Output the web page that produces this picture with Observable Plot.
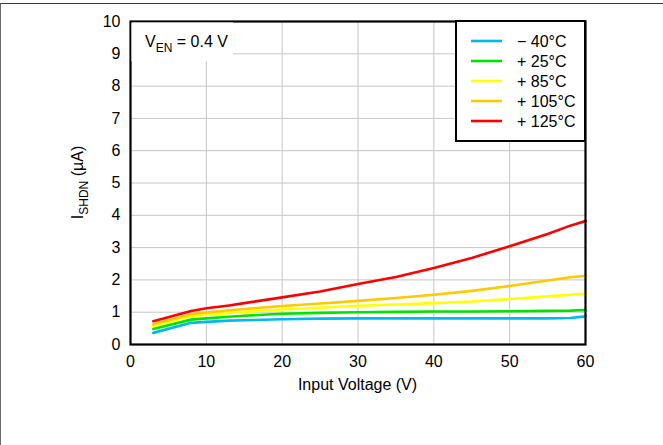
<!DOCTYPE html>
<html>
<head>
<meta charset="utf-8">
<script src="https://cdn.jsdelivr.net/npm/d3@7"></script>
<script src="https://cdn.jsdelivr.net/npm/@observablehq/plot@0.6"></script>
<style>
  html, body { margin: 0; padding: 0; background: #fff; }
  #wrap { position: relative; width: 663px; height: 445px; overflow: hidden; }
  #edge { position: absolute; left: 0; top: 3px; width: 700px; height: 500px;
          border-top: 1px solid #3a3a3a; border-left: 1px solid #6a6a6a; pointer-events: none; }
  svg { font-family: "Liberation Sans", Arial, sans-serif; }
</style>
</head>
<body>
<div id="wrap"><div id="edge"></div></div>
<script>
// ---- data ----
const temps = ["− 40°C", "+ 25°C", "+ 85°C", "+ 105°C", "+ 125°C"];
const colors = ["#00b8f2", "#00e400", "#ffff00", "#ffc800", "#ff0000"];
const vin = [3, 8, 10, 13, 15, 20, 25, 30, 35, 40, 45, 50, 55, 58, 60];
const iM40  = [0.36, 0.67, 0.70, 0.74, 0.75, 0.78, 0.80, 0.81, 0.81, 0.81, 0.81, 0.81, 0.81, 0.82, 0.87];
const iP25  = [0.48, 0.77, 0.81, 0.86, 0.89, 0.95, 0.98, 1.00, 1.01, 1.02, 1.02, 1.03, 1.04, 1.05, 1.07];
const iP85  = [0.57, 0.88, 0.92, 0.98, 1.01, 1.09, 1.14, 1.20, 1.24, 1.28, 1.33, 1.41, 1.49, 1.54, 1.57];
const iP105 = [0.63, 0.94, 0.99, 1.06, 1.10, 1.19, 1.27, 1.35, 1.44, 1.54, 1.66, 1.81, 1.98, 2.08, 2.13];
const iP125 = [0.72, 1.04, 1.12, 1.21, 1.28, 1.46, 1.64, 1.87, 2.09, 2.37, 2.68, 3.04, 3.42, 3.68, 3.82];
const xTicks = [0, 10, 20, 30, 40, 50, 60];
const yTicks = [0, 1, 2, 3, 4, 5, 6, 7, 8, 9, 10];

const seriesVals = [iM40, iP25, iP85, iP105, iP125];
const rows = [];
seriesVals.forEach((vals, si) => vals.forEach((v, i) => rows.push({temp: temps[si], x: vin[i], y: v})));

const W = 663, H = 445;
const mL = 130, mR = 78, mT = 21, mB = 101;

const chart = Plot.plot({
  width: W, height: H,
  marginLeft: mL, marginRight: mR, marginTop: mT, marginBottom: mB,
  style: {fontFamily: "'Liberation Sans', Arial, sans-serif", background: "transparent", color: "#000"},
  x: {domain: [0, 60]},
  y: {domain: [0, 10]},
  color: {domain: temps, range: colors},
  marks: [
    Plot.gridX(xTicks, {stroke: "#c6c6c6", strokeOpacity: 1, strokeWidth: 1}),
    Plot.gridY(yTicks, {stroke: "#c6c6c6", strokeOpacity: 1, strokeWidth: 1}),
    Plot.line(rows, {x: "x", y: "y", z: "temp", stroke: "temp", strokeWidth: 2.6, curve: "linear"}),
    Plot.frame({stroke: "#000", strokeWidth: 2.2}),
    Plot.axisX(xTicks, {tickSize: 0, tickPadding: 11, fontSize: 16, label: null}),
    Plot.axisY(yTicks, {tickSize: 0, tickPadding: 10, fontSize: 16, label: null})
  ]
});

document.getElementById("wrap").appendChild(chart);

const svg = d3.select(chart);
const sx = chart.scale("x"), sy = chart.scale("y");
const x0 = sx.apply(0), x60 = sx.apply(60), y0 = sy.apply(0), y10 = sy.apply(10);

// annotation box (covers grid)
const ann = svg.append("g").attr("text-anchor", "start");
ann.append("rect").attr("x", x0 + 1.5).attr("y", y10 + 1.5)
  .attr("width", sx.apply(13.6) - x0 - 1.5).attr("height", sy.apply(8.75) - y10 - 1.5).attr("fill", "#fff");
const annT = ann.append("text").attr("x", x0 + 15).attr("y", y10 + 26)
  .attr("font-size", 16).attr("fill", "#000").attr("text-anchor", "start");
annT.append("tspan").text("V");
annT.append("tspan").attr("font-size", 12).attr("dy", 5).text("EN");
annT.append("tspan").attr("dy", -5).text(" = 0.4 V");

// legend
const lg = svg.append("g").attr("text-anchor", "start");
const lx = 456, ly = y10;
lg.append("rect").attr("x", lx).attr("y", ly).attr("width", x60 - lx).attr("height", 120)
  .attr("fill", "#fff").attr("stroke", "#000").attr("stroke-width", 2);
temps.forEach((t, i) => {
  const yy = ly + 20 + i * 20;
  lg.append("line").attr("x1", lx + 15).attr("x2", lx + 46).attr("y1", yy).attr("y2", yy)
    .attr("stroke", colors[i]).attr("stroke-width", 2.6);
  lg.append("text").attr("x", lx + 61).attr("y", yy + 5.5).attr("font-size", 16)
    .attr("fill", "#000").attr("text-anchor", "start").text(t);
});

// axis labels
svg.append("text").attr("x", (x0 + x60) / 2).attr("y", 390).attr("text-anchor", "middle")
  .attr("font-size", 16).attr("fill", "#000").text("Input Voltage (V)");
const yl = svg.append("text").attr("transform", `translate(83,${(y0 + y10) / 2}) rotate(-90)`)
  .attr("text-anchor", "middle").attr("font-size", 16).attr("fill", "#000");
yl.append("tspan").text("I");
yl.append("tspan").attr("font-size", 12).attr("dy", 5).text("SHDN");
yl.append("tspan").attr("dy", -5).text(" (µA)");
</script>
</body>
</html>
